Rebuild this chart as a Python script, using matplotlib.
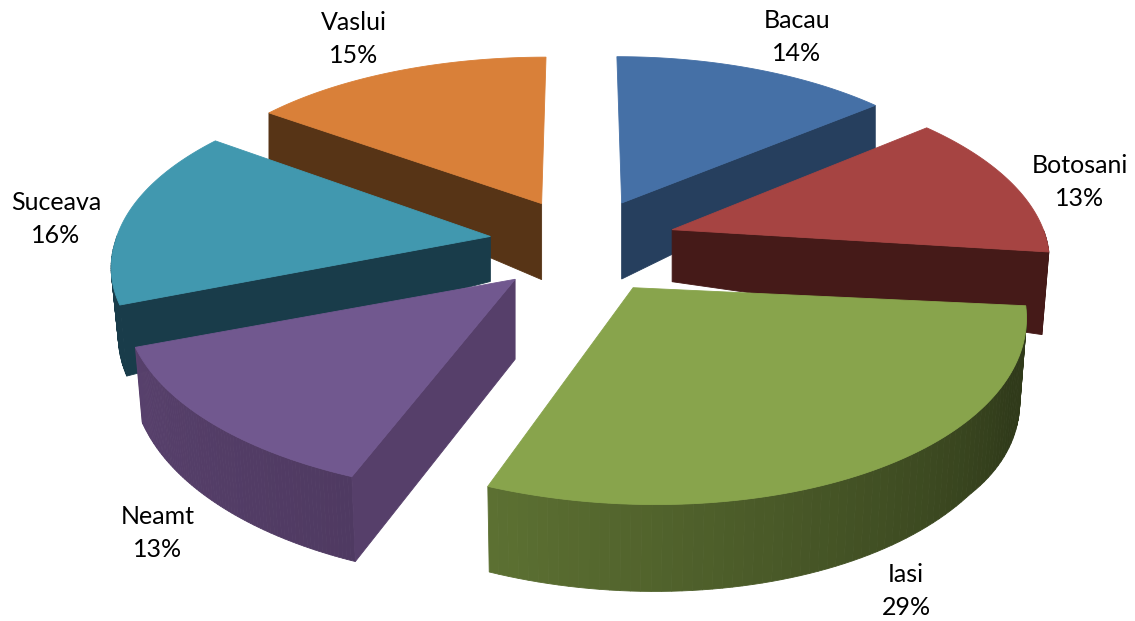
#!/usr/bin/env python3
import matplotlib
matplotlib.use('Agg')
import matplotlib.pyplot as plt
from matplotlib.patches import Polygon
import numpy as np

counties = ['Bacau', 'Botosani', 'Iasi', 'Neamt', 'Suceava', 'Vaslui']
shares = [14, 13, 29, 13, 16, 15]

# look of the slices, same order as counties
top_colors = ['#4570a6', '#a64442', '#88a44c', '#71588f', '#4198af', '#d98039']
wall_colors = ['#263f5e', '#451a18', '#5c7032', '#563f6a', '#193c4a', '#573416']
apex_depth = [76, 52, 80, 80, 45, 76]
label_xy = [(797, 37), (1080, 182), (906, 591), (158, 533), (56, 219), (354, 39)]

CX, CY = 583, 242
RX, RY = 375, 178
PERSP = 0.145
EXPLODE = 0.25


def project(u, v):
    k = 1 / (1 - PERSP * v)
    x = CX + RX * u * k + 10 * np.maximum(v, 0) ** 2
    # the far left of the pie sits slightly further out
    x = x - 6 * np.maximum(-u, 0) * np.maximum(-v, 0)
    return x, CY + RY * v * k


def rim_depth(u, v):
    return 65 + 18 * v + 50 * np.maximum(u - 0.9, 0)


def foot_x(x, v):
    # wall bottoms lean in a little towards the middle on the near side
    return np.where(v > -0.5, x - 0.015 * (x - CX), x)


def shade(color, factor):
    return tuple(min(c * factor, 1) for c in matplotlib.colors.to_rgb(color))


def wall_shade(i, deg):
    if i == 2:
        # iasi goes dark towards the right hand side
        return 0.52 + 0.48 * np.clip((deg - 115) / 85, 0, 1)
    if i == 3:
        return 0.92 + 0.1 * (deg - 201.6) / 47
    return 1


fig = plt.figure(figsize=(11.35, 6.21), dpi=100)
ax = fig.add_axes([0, 0, 1, 1])
ax.set_xlim(0, 1135)
ax.set_ylim(621, 0)
ax.axis('off')

bounds = np.cumsum([0] + shares) * 3.6
slices = []
for i in range(len(shares)):
    a0, a1 = bounds[i], bounds[i + 1]
    mid = np.radians((a0 + a1) / 2)
    du, dv = EXPLODE * np.sin(mid), -EXPLODE * np.cos(mid)
    slices.append((i, a0, a1, du, dv))

# back slices first
draw_order = [0, 5, 4, 1, 3, 2]
for i, a0, a1, du, dv in [slices[j] for j in draw_order]:
    deg = np.linspace(a0, a1, 80)
    th = np.radians(deg)
    rim_u = du + np.sin(th)
    rim_v = dv - np.cos(th)
    rx, ry = project(rim_u, rim_v)
    fx = foot_x(rx, rim_v)
    fy = ry + rim_depth(rim_u, rim_v)
    # near slices have their tip pulled forward a bit
    px, py = project(du, dv * 1.15 if dv > 0 else dv)

    # outer wall, only the part facing the viewer
    for j in range(len(deg) - 1):
        if 90 < deg[j] < 270:
            quad = [(rx[j], ry[j]), (rx[j + 1], ry[j + 1]), (fx[j + 1], fy[j + 1]), (fx[j], fy[j])]
            c = shade(wall_colors[i], wall_shade(i, deg[j]))
            ax.add_patch(Polygon(quad, closed=True, fc=c, ec=c, lw=0.6, zorder=1))

    # flat cut face
    if a1 <= 180:
        k = -1
    elif a0 >= 180:
        k = 0
    else:
        k = None
    if k is not None:
        quad = [(px, py), (rx[k], ry[k]), (fx[k], fy[k]), (px, py + apex_depth[i])]
        ax.add_patch(Polygon(quad, closed=True, fc=wall_colors[i], ec=wall_colors[i], lw=0.6, zorder=1))

    top = [(px, py)] + list(zip(rx, ry))
    ax.add_patch(Polygon(top, closed=True, fc=top_colors[i], ec=top_colors[i], lw=0.6, zorder=1))

for name, val, (x, y) in zip(counties, shares, label_xy):
    ax.text(x, y, '%s\n%d%%' % (name, val), ha='center', va='center', fontsize=18,
            family='Lato', color='black', linespacing=1.5, zorder=5)

fig.savefig('out.png', dpi=100)
plt.close(fig)
